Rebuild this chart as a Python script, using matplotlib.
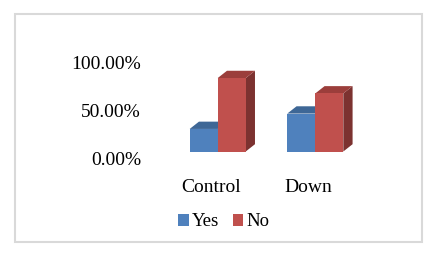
import matplotlib
matplotlib.use('Agg')
import matplotlib.pyplot as plt
from matplotlib.patches import Polygon, Patch, Rectangle
from matplotlib.transforms import ScaledTranslation

# dados
categorias = ['Control', 'Down']
series = ['Yes', 'No']
sim = [0.235, 0.395]   # Yes: Control, Down
nao = [0.765, 0.605]   # No: Control, Down
yticks = [0.0, 0.5, 1.0]
ytick_labels = ['0.00%', '50.00%', '100.00%']

plt.rcParams['font.family'] = ['Liberation Serif', 'DejaVu Serif']

frente = ['#4F81BD', '#C0504D']
topo = ['#3E6796', '#9B3E3B']
lado = ['#365A84', '#7C3230']

W, H = 435, 254
fig = plt.figure(figsize=(W / 100, H / 100), dpi=100)

# moldura cinza
fig.patches.append(Rectangle((15.5 / W, 1 - 241.5 / H), 407 / W, 228 / H,
                             transform=fig.transFigure, fill=False,
                             edgecolor='#d9d9d9', lw=1.5))

# eixo: 0 -> x=217.7px, 97.6 px por categoria; y=0 -> 151.5px do topo, 96 px por 100%
x0, y0 = -0.7, -0.1
x1, y1 = 1.5, 1.05
px_x, px_y = 97.6, 96.0
left = 217.7 + x0 * px_x
bottom = (H - 151.5) + y0 * px_y
ax = fig.add_axes([left / W, bottom / H, (x1 - x0) * px_x / W, (y1 - y0) * px_y / H])
ax.set_xlim(x0, x1)
ax.set_ylim(y0, y1)

largura = 0.287
dx, dy = 0.095, 0.076

valores = [sim, nao]
for i in range(len(categorias)):
    for s in range(2):
        v = valores[s][i]
        xe = i - largura if s == 0 else i
        xd = xe + largura
        # lado
        ax.add_patch(Polygon([(xd, 0), (xd + dx, dy), (xd + dx, v + dy), (xd, v)],
                             closed=True, facecolor=lado[s], edgecolor='none', zorder=2 + s))
        # topo
        ax.add_patch(Polygon([(xe, v), (xe + dx, v + dy), (xd + dx, v + dy), (xd, v)],
                             closed=True, facecolor=topo[s], edgecolor='none', zorder=2 + s))
        # frente
        ax.bar(xe, v, width=largura, align='edge', color=frente[s],
               edgecolor='none', zorder=2 + s)

for sp in ax.spines.values():
    sp.set_visible(False)

ax.set_yticks(yticks)
ax.set_yticklabels(ytick_labels, fontsize=14)
ax.tick_params(axis='y', length=0, pad=6)
off_y = ScaledTranslation(0, -7 / 100, fig.dpi_scale_trans)
for lab in ax.get_yticklabels():
    lab.set_transform(lab.get_transform() + off_y)

ax.set_xticks(range(len(categorias)))
ax.set_xticklabels(categorias, fontsize=14)
ax.tick_params(axis='x', length=0, pad=13)
off_x = ScaledTranslation(-7 / 100, 0, fig.dpi_scale_trans)
for lab in ax.get_xticklabels():
    lab.set_transform(lab.get_transform() + off_x)

handles = [Patch(facecolor=frente[0], label=series[0]),
           Patch(facecolor=frente[1], label=series[1])]
fig.legend(handles=handles, loc='center', bbox_to_anchor=(224 / W, 1 - 222 / H),
           ncol=2, frameon=False, fontsize=13.5, handlelength=0.55, handleheight=0.55,
           handletextpad=0.2, columnspacing=0.7, borderpad=0)

fig.savefig('out.png', dpi=100)
